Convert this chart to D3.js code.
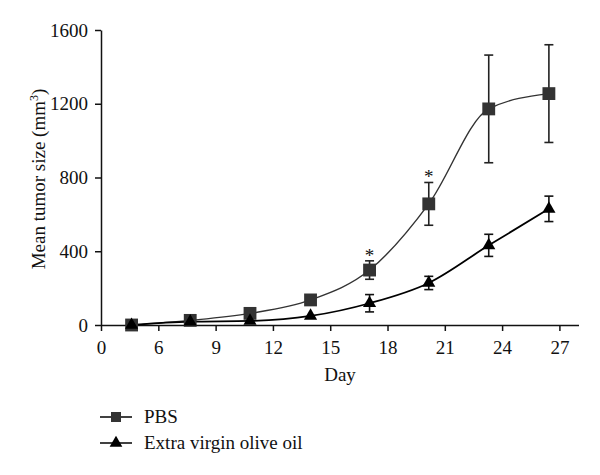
<!DOCTYPE html>
<html>
<head>
<meta charset="utf-8">
<script src="https://cdn.jsdelivr.net/npm/d3@7"></script>
<style>
  html, body { margin: 0; padding: 0; background: #fff; }
  svg { display: block; }
  text { font-family: "Liberation Serif", "DejaVu Serif", serif; fill: #111; }
</style>
</head>
<body>
<svg id="chart" width="600" height="475"></svg>
<script>
// ---- data ----
const days = [3.2, 7.67, 10.8, 13.97, 17.06, 20.16, 23.3, 26.45];
const pbsMean = [0, 25, 63, 136, 298, 657, 1172, 1255];
const pbsErr  = [0, 0, 0, 0, 50, 116, 292, 265];
const oilMean = [0, 18, 22, 49, 118, 228, 432, 630];
const oilErr  = [0, 0, 0, 0, 47, 36, 60, 69];
const xTickValues = [0, 6, 9, 12, 15, 18, 21, 24, 27];
const yTickValues = [0, 400, 800, 1200, 1600];
const seriesNames = ["PBS", "Extra virgin olive oil"];
const starDays = [17.06, 20.16];

const FONT = "'Liberation Serif', 'DejaVu Serif', serif";
const svg = d3.select("#chart");

// broken x axis: first segment 0-6 compressed to one tick step
const x = d3.scaleLinear().domain([0, 6, 28]).range([101, 158.33, 578.5]);
const y = d3.scaleLinear().domain([0, 1600]).range([325, 30]);

// axes
const xAxis = d3.axisBottom(x).tickValues(xTickValues).tickFormat(d3.format("d"))
  .tickSize(6).tickPadding(10).tickSizeOuter(0);
const yAxis = d3.axisLeft(y).tickValues(yTickValues).tickFormat(d3.format("d"))
  .tickSize(6).tickPadding(7).tickSizeOuter(0);

const gx = svg.append("g").attr("transform", "translate(0,325)").call(xAxis);
const gy = svg.append("g").attr("transform", "translate(101,0)").call(yAxis);
[gx, gy].forEach(g => {
  g.attr("font-family", FONT).attr("font-size", 19);
  g.selectAll("path, line").attr("stroke", "#111").attr("stroke-width", 1.5);
  g.selectAll("text").attr("fill", "#111");
});

// axis titles
svg.append("text").attr("x", 340).attr("y", 381).attr("text-anchor", "middle")
  .attr("font-family", FONT).attr("font-size", 19).text("Day");
const yl = svg.append("text")
  .attr("transform", "translate(45,179) rotate(-90)")
  .attr("text-anchor", "middle").attr("font-family", FONT).attr("font-size", 19);
yl.append("tspan").text("Mean tumor size (mm");
yl.append("tspan").attr("font-size", 12).attr("dy", -7).text("3");
yl.append("tspan").attr("dy", 7).text(")");

const pbs = days.map((d, i) => ({ d, m: pbsMean[i], e: pbsErr[i] }));
const oil = days.map((d, i) => ({ d, m: oilMean[i], e: oilErr[i] }));

const line = d3.line().x(p => x(p.d)).y(p => y(p.m)).curve(d3.curveMonotoneX);

svg.append("path").datum(pbs).attr("d", line).attr("fill", "none")
  .attr("stroke", "#333").attr("stroke-width", 1.4);
svg.append("path").datum(oil).attr("d", line).attr("fill", "none")
  .attr("stroke", "#000").attr("stroke-width", 1.8);

function errorBars(data, color) {
  const g = svg.append("g").attr("stroke", color).attr("stroke-width", 1.6);
  data.filter(p => p.e > 0).forEach(p => {
    const cx = x(p.d);
    g.append("line").attr("x1", cx).attr("x2", cx).attr("y1", y(p.m + p.e)).attr("y2", y(p.m - p.e));
    [p.m + p.e, p.m - p.e].forEach(v => {
      g.append("line").attr("x1", cx - 4.5).attr("x2", cx + 4.5).attr("y1", y(v)).attr("y2", y(v));
    });
  });
}
errorBars(pbs, "#222");
errorBars(oil, "#111");

const sq = d3.symbol().type(d3.symbolSquare).size(165);
const tri = d3.symbol().type(d3.symbolTriangle).size(75);

svg.append("g").selectAll("path").data(pbs).join("path")
  .attr("d", sq).attr("transform", p => `translate(${x(p.d)},${y(p.m)})`)
  .attr("fill", "#333");
svg.append("g").selectAll("path").data(oil).join("path")
  .attr("d", tri).attr("transform", p => `translate(${x(p.d)},${y(p.m)})`)
  .attr("fill", "#000");

// significance stars
starDays.forEach(sd => {
  const p = pbs.find(q => q.d === sd);
  svg.append("text").attr("x", x(p.d)).attr("y", y(p.m + p.e) + 1)
    .attr("text-anchor", "middle").attr("font-family", FONT).attr("font-size", 19)
    .attr("fill", "#111").style("fill", "#111").text("*");
});

// legend
const legend = svg.append("g");
const legendSymbols = [d3.symbol().type(d3.symbolSquare).size(100), d3.symbol().type(d3.symbolTriangle).size(70)];
const legendColors = ["#333", "#000"];
seriesNames.forEach((name, i) => {
  const ly = 417 + i * 26;
  legend.append("line").attr("x1", 100).attr("x2", 132).attr("y1", ly).attr("y2", ly)
    .attr("stroke", "#111").attr("stroke-width", 1.6);
  legend.append("path").attr("d", legendSymbols[i]).attr("transform", `translate(116,${ly})`)
    .attr("fill", legendColors[i]);
  legend.append("text").attr("x", 144).attr("y", ly + 6).attr("font-family", FONT)
    .attr("font-size", 19).text(name);
});
</script>
</body>
</html>
